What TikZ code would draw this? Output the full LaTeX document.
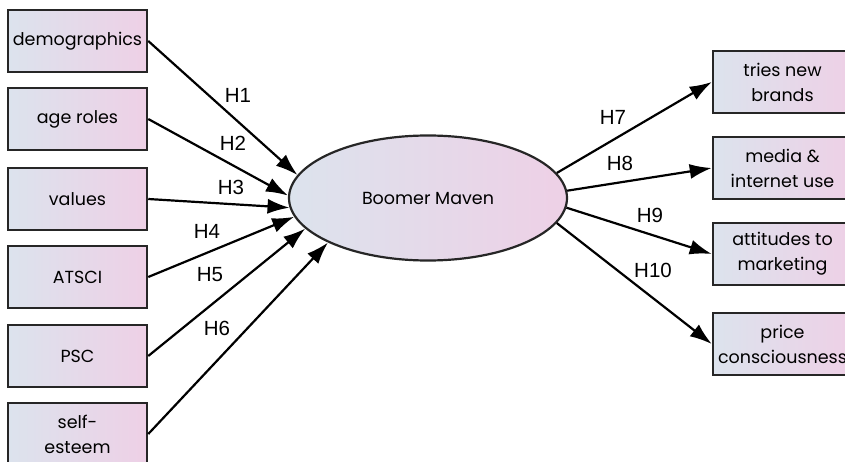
\documentclass[tikz,border=0pt]{standalone}
\usepackage{fontspec}
\setmainfont{Poppins}
\newfontfamily\hypfont{Liberation Sans}
\usetikzlibrary{arrows.meta,shapes.geometric}

\definecolor{boxblue}{HTML}{DCE3ED}
\definecolor{boxpink}{HTML}{EED0E6}
\definecolor{edgegray}{HTML}{262626}

\tikzstyle{construct} = [draw=edgegray, line width=2.5pt, rectangle,
  left color=boxblue, right color=boxpink, minimum width=139pt,
  minimum height=62pt, inner sep=2pt, align=center,
  font=\fontsize{17.5}{25}\selectfont]
\tikzstyle{latent} = [draw=edgegray, line width=2.2pt, ellipse,
  left color=boxblue, right color=boxpink, minimum width=278pt,
  minimum height=125pt, inner sep=0pt, font=\fontsize{17.5}{22}\selectfont]
\tikzstyle{hyp} = [-{Latex[length=22pt,width=15pt]}, line width=2.2pt]
\tikzstyle{hlabel} = [inner sep=0pt, font=\hypfont\fontsize{20.5}{24}\selectfont]

\begin{document}
\begin{tikzpicture}[x=1pt,y=-1pt]
        \useasboundingbox (0,0) rectangle (845,462);

        \node [latent]    (maven)   at (428,198) {Boomer Maven};

        \node [construct] (demo)    at (77.5, 41) {demographics};
        \node [construct] (age)     at (77.5,119) {age roles};
        \node [construct] (values)  at (77.5,199) {values};
        \node [construct] (atsci)   at (77.5,277) {ATSCI};
        \node [construct] (psc)     at (77.5,356) {PSC};
        \node [construct] (esteem)  at (77.5,434) {self-\\esteem};

        \node [construct] (brands)  at (782.5, 82) {tries new\\brands};
        \node [construct] (media)   at (782.5,168) {media \&\\internet use};
        \node [construct] (market)  at (782.5,254) {attitudes to\\marketing};
        \node [construct] (price)   at (782.5,344) {price\\consciousness};

        \draw[hyp] (demo.east)   -- (maven.170);
        \draw[hyp] (age.east)    -- (maven.179);
        \draw[hyp] (values.east) -- (maven.184);
        \draw[hyp] (atsci.east)  -- (maven.188);
        \draw[hyp] (psc.east)    -- (maven.194);
        \draw[hyp] (esteem.east) -- (maven.204);

        \draw[hyp] (maven.11)  -- (brands.west);
        \draw[hyp] (maven.3)   -- (media.west);
        \draw[hyp] (maven.-4)  -- (market.west);
        \draw[hyp] (maven.-11) -- (price.west);

        \node [hlabel] (h1)  at (238, 95) {H1};
        \node [hlabel] (h2)  at (233,143) {H2};
        \node [hlabel] (h3)  at (231,187) {H3};
        \node [hlabel] (h4)  at (207,231) {H4};
        \node [hlabel] (h5)  at (210,275) {H5};
        \node [hlabel] (h6)  at (217,328) {H6};
        \node [hlabel] (h7)  at (613,117) {H7};
        \node [hlabel] (h8)  at (620,163) {H8};
        \node [hlabel] (h9)  at (650,215) {H9};
        \node [hlabel] (h10) at (653,270) {H10};
      \end{tikzpicture}
\end{document}
